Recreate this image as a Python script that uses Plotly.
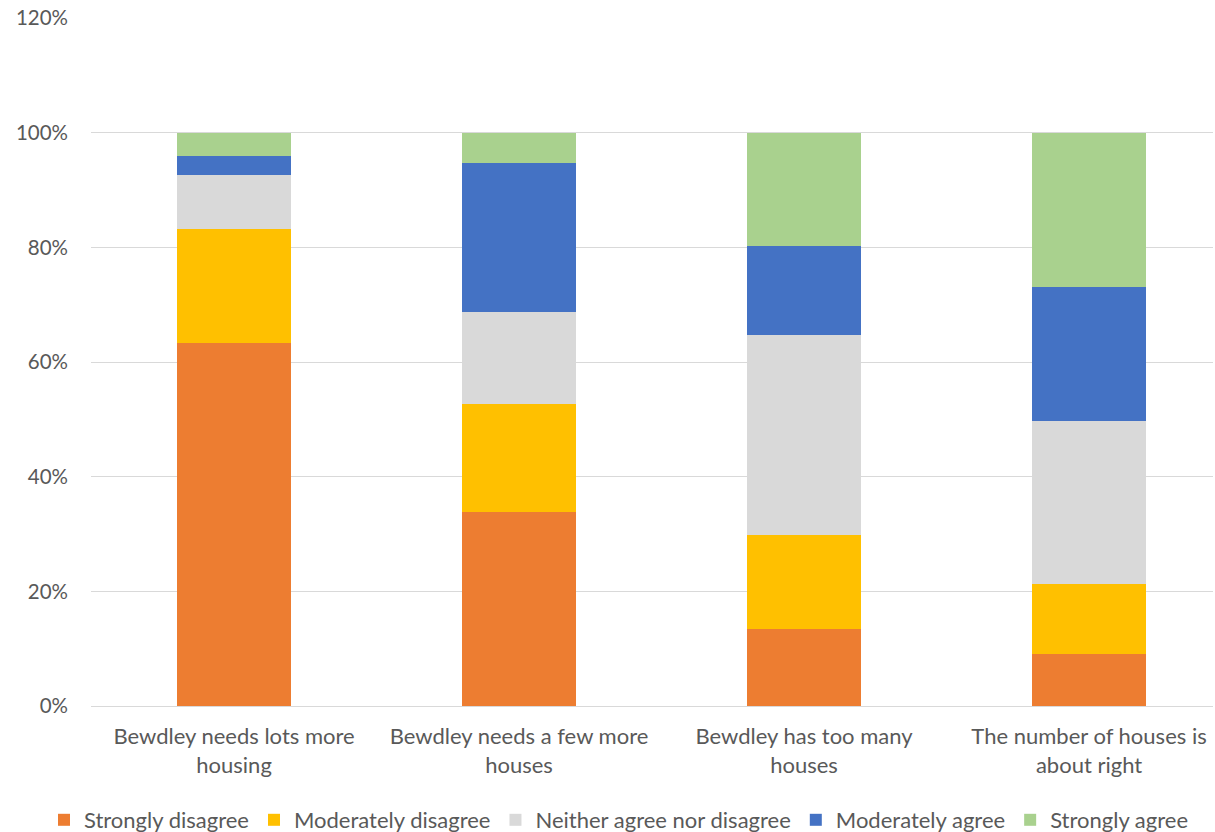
import plotly.graph_objects as go

categories = [
    "Bewdley needs lots more<br>housing",
    "Bewdley needs a few more<br>houses",
    "Bewdley has too many<br>houses",
    "The number of houses is<br>about right",
]
series_names = ["Strongly disagree", "Moderately disagree", "Neither agree nor disagree",
                "Moderately agree", "Strongly agree"]
strongly_disagree = [63.4, 33.8, 13.4, 9.1]
moderately_disagree = [19.8, 18.9, 16.5, 12.2]
neither = [9.4, 16.1, 34.8, 28.4]
moderately_agree = [3.4, 25.9, 15.6, 23.4]
strongly_agree = [4.0, 5.3, 19.7, 26.9]
colors = ["#ED7D31", "#FFC000", "#D9D9D9", "#4472C4", "#A9D18E"]
y_ticks = [0, 20, 40, 60, 80, 100, 120]
y_tick_labels = ["0%", "20%", "40%", "60%", "80%", "100%", "120%"]

series_values = [strongly_disagree, moderately_disagree, neither, moderately_agree, strongly_agree]

fig = go.Figure()
for name, vals, col in zip(series_names, series_values, colors):
    fig.add_trace(go.Bar(x=categories, y=vals, name=name, marker=dict(color=col, line=dict(width=0)),
                         width=0.4))

font_family = "Lato, 'Open Sans', sans-serif"
fig.update_layout(
    barmode="stack",
    width=1215, height=832,
    margin=dict(l=91, r=2, t=18, b=126, autoexpand=False),
    paper_bgcolor="white", plot_bgcolor="white",
    font=dict(family=font_family, size=22, color="#595959"),
    showlegend=True,
    legend=dict(orientation="h", x=-0.0419, xanchor="left", y=-0.1657, yanchor="middle",
                font=dict(size=22, color="#595959"), traceorder="normal",
                itemwidth=30, itemsizing="constant", tracegroupgap=0),
    xaxis=dict(range=[-0.502, 3.435], showgrid=False, showline=False, zeroline=False,
               automargin=False,
               ticks="", tickfont=dict(size=22, color="#595959"), ticklabelstandoff=15),
    yaxis=dict(range=[0, 120.001], tickvals=y_ticks, ticktext=y_tick_labels,
               showgrid=True, gridcolor="#D9D9D9", gridwidth=1, zeroline=True,
               automargin=False, ticklabeloverflow="allow",
               zerolinecolor="#D9D9D9", zerolinewidth=1, showline=False, ticks="",
               tickfont=dict(size=20.5, color="#595959"), ticklabelstandoff=22),
    bargap=0.6,
)

fig.write_html(
    "out.html",
    config={"displayModeBar": False},
    post_script="document.body.style.margin='0px';document.body.style.overflow='hidden';",
)
